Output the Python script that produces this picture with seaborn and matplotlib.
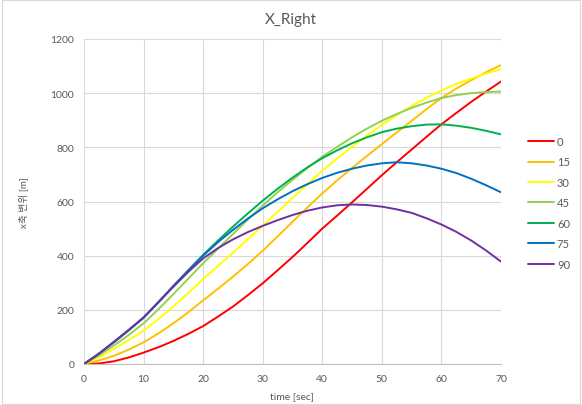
import pandas as pd
import matplotlib.pyplot as plt
import seaborn as sns

# time axis [sec]
time = [0, 2.5, 5, 7.5, 10, 12.5, 15, 17.5, 20, 22.5, 25, 27.5, 30, 32.5, 35,
        37.5, 40, 42.5, 45, 47.5, 50, 52.5, 55, 57.5, 60, 62.5, 65, 67.5, 70]

# x displacement [m] per angle
x_0 = [0, 2, 10, 24, 42, 62, 85, 111, 140, 175, 212, 254, 298, 346, 395,
       447, 500, 548, 597, 647, 697, 745, 792, 839, 885, 927, 968, 1006, 1043]
x_15 = [0, 13, 30, 53, 80, 113, 150, 191, 235, 278, 322, 369, 418, 471, 525,
        578, 630, 678, 724, 768, 812, 855, 898, 941, 982, 1017, 1048, 1077, 1104]
x_30 = [0, 26, 55, 88, 123, 166, 212, 262, 314, 362, 411, 461, 510, 562, 613,
        664, 714, 759, 802, 843, 883, 919, 953, 983, 1010, 1034, 1054, 1072, 1089]
x_45 = [0, 32, 68, 107, 150, 202, 258, 315, 372, 426, 480, 533, 585, 634, 680,
        724, 765, 802, 837, 869, 898, 923, 946, 965, 982, 993, 1000, 1004, 1006]
x_60 = [0, 38, 80, 124, 172, 228, 288, 346, 403, 456, 507, 556, 603, 647, 688,
        726, 760, 789, 815, 837, 856, 869, 878, 884, 885, 880, 872, 861, 848]
x_75 = [0, 38, 80, 125, 172, 229, 288, 345, 400, 450, 495, 537, 575, 608, 638,
        664, 687, 706, 721, 733, 741, 745, 741, 733, 721, 705, 684, 660, 634]
x_90 = [0, 38, 82, 126, 170, 228, 285, 340, 390, 428, 460, 487, 510, 531, 550,
        566, 578, 586, 589, 587, 581, 571, 558, 538, 515, 488, 456, 419, 378]

angles = ['0', '15', '30', '45', '60', '75', '90']
series = [x_0, x_15, x_30, x_45, x_60, x_75, x_90]
colors = ['#FF0000', '#FFC000', '#FFFF00', '#92D050', '#00B050', '#0070C0', '#7030A0']

rows = []
for a, vals in zip(angles, series):
    for t, v in zip(time, vals):
        rows.append({'time': t, 'x': v, 'angle': a})
df = pd.DataFrame(rows)

sns.set_style('white')
plt.rcParams['font.family'] = ['Lato', 'Noto Sans CJK KR', 'DejaVu Sans']
gray = '#595959'

fig = plt.figure(figsize=(5.82, 4.06), dpi=100)
ax = fig.add_axes([84 / 582, 1 - 365 / 406, (501 - 84) / 582, (365 - 40) / 406])

sns.lineplot(data=df, x='time', y='x', hue='angle', hue_order=angles,
             palette=colors, linewidth=1.4, ax=ax)

ax.set_xlim(0, 70)
ax.set_ylim(0, 1200)
ax.set_xticks(range(0, 71, 10))
ax.set_yticks(range(0, 1201, 200))
ax.grid(True, color='#D9D9D9', linewidth=0.8)
ax.set_axisbelow(True)
for s in ['top', 'right', 'left']:
    ax.spines[s].set_visible(False)
ax.spines['bottom'].set_color('#BFBFBF')
ax.tick_params(axis='both', colors=gray, labelsize=7.5, length=0, pad=7)

ax.set_xlabel('time [sec]', fontsize=7.5, color=gray, labelpad=6)
ax.set_ylabel('x축 변위 [m]', fontsize=7, color=gray, labelpad=16)
fig.text(0.5, 0.95, 'X_Right', ha='center', va='center', fontsize=11, color=gray)

leg = ax.legend(loc='upper left', bbox_to_anchor=(518 / 582, 1 - 127 / 406),
                bbox_transform=fig.transFigure, frameon=False, fontsize=8,
                handlelength=2.3, labelspacing=0.85, handletextpad=0.3)
for txt in leg.get_texts():
    txt.set_color(gray)
for line in leg.get_lines():
    line.set_linewidth(1.4)

# outer chart border
fig.patches.append(plt.Rectangle((0.003, 0.003), 0.994, 0.994, transform=fig.transFigure,
                                 fill=False, edgecolor='#D9D9D9', linewidth=0.8))

plt.savefig('out.png', dpi=100)
